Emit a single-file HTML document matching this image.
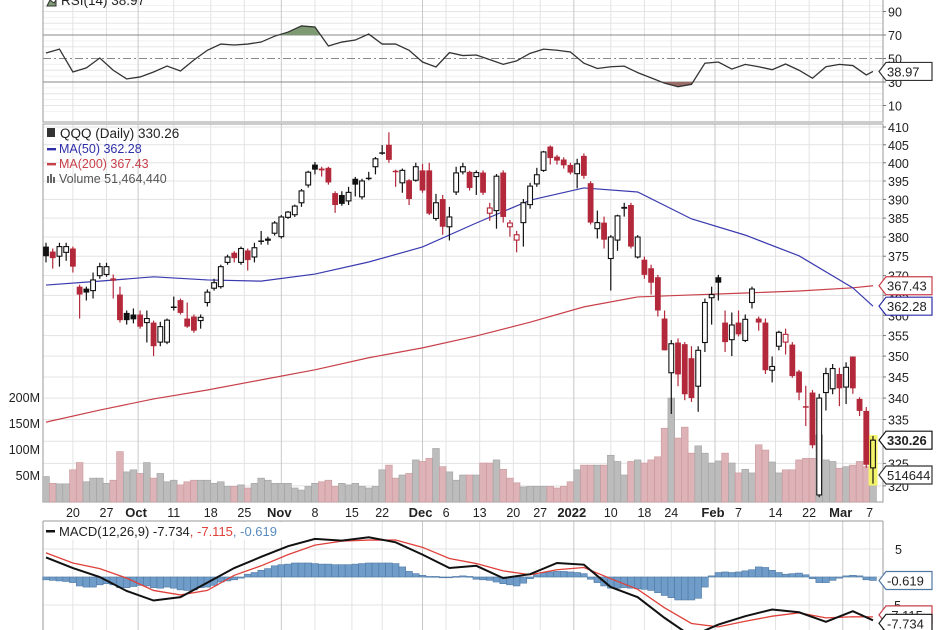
<!DOCTYPE html>
<html><head><meta charset="utf-8">
<style>
html,body{margin:0;padding:0;background:#fff;}
svg{display:block;font-family:"Liberation Sans",Arial,sans-serif;}
</style></head>
<body>
<svg id="chart" width="936" height="630" viewBox="0 0 936 630"></svg>
<script>
// ---------- DATA ----------
const opens=[377.5,376.2,375,376,377,367.2,366.7,366.2,370,370.3,369.3,365.2,360.6,360.2,360.2,358.2,358.2,353.4,353.4,362.2,363.8,359.2,359.7,358.7,363.2,366.8,367.2,373.4,375.9,373.4,376.5,374.8,379.1,379.6,381,380.1,385.2,385.9,389.1,393.9,399.5,398.4,398.6,391.7,391.2,389.6,395.6,390.7,395.9,398.9,402.9,405,397.8,394.5,395.2,395.2,397.9,397.9,384.9,390.1,382.7,392,397.5,397.5,396.2,397.3,386.3,387,397.3,382.7,379.2,383.8,388.6,394.2,397.9,404.5,401.7,400.9,399.4,397,401.9,394.4,382.2,383.8,374.4,379.2,388,388.5,374.8,374.1,371.9,369.6,359.2,346,353.3,352.9,349.5,342.8,353.3,364.4,369.6,358.2,354,358.2,353.8,363.2,359.2,358.2,346.6,352.4,353.4,352.8,346.3,338.1,341.3,318,341.3,342.2,345.7,342.6,349.9,339.8,337,324];
const closes=[375,374.5,377.5,377.5,372.3,365.2,365.7,368.9,372.3,372.3,368.7,358.8,358.8,359,357.2,359.2,352.4,357.2,358.8,361.9,360.6,357.2,356.2,359.5,365.8,368.2,372.3,374.8,374.5,377,374,377.2,378.8,379,383.7,385.3,386.6,388.2,392.3,397.4,398.1,397.9,394.6,388.5,388.8,391.9,394,395,395.6,401.1,402.5,400.8,397.4,397.9,390.1,398.9,392.4,386.2,389.1,382.7,385.3,397.2,398.9,393.1,397.3,391.8,387.7,396.3,385.3,383.7,380.6,389.1,393.6,396.7,403,401.3,400.6,399.3,397.3,399.7,396.4,383.8,383.8,379.3,380,385.6,387.5,377.5,380,370.2,368.2,361.2,351.4,353,345.6,340.9,340,351.4,363.2,365.2,368.2,353.4,357.6,355.3,359,366.6,358.2,346.6,347.5,355.8,355.3,345.2,341.3,337.9,329.1,340,345.8,347,342.3,347.3,342.3,337,324.7,330.26];
const highs=[378.5,377,378.5,378.5,377.5,367.7,367.2,370.8,373.3,373.3,370.3,367.2,361.2,361.7,361.2,361.2,358.7,358.4,359.2,364.7,364.2,363.2,360.2,360.2,366.5,369.2,372.8,375.4,376.3,377.5,377,378.5,381.6,380.1,384.2,385.8,386.9,388.6,392.8,397.8,400.2,398.9,398.9,392.2,392.2,393.4,396.1,395.6,397.5,401.6,404.9,408.5,398.1,398.4,395.5,400,399.7,400,391.5,391.2,388,398.9,400,397.8,397.9,397.9,389.1,396.9,397.9,384.5,381.6,390.1,394.5,398.6,403.3,404.8,402.2,401.5,400,401.1,402.6,394.9,387,385.4,380.5,385.9,389.1,389.1,380.5,374.9,372.8,370.2,361.2,353.9,354.3,353.4,352.4,352.4,364.2,367.2,370.2,361.2,360.7,361.2,360.2,367.2,359.7,359.2,349.9,356.2,356.7,353.4,346.7,342.9,341.9,341,347.2,348.1,347.2,348.5,349.9,340.2,337.9,331.2];
const lows=[373.4,371.8,372.3,373.8,370.8,359.2,363.7,364.2,369.2,369.7,364.2,358.2,357.7,358,356.7,353.3,350,352.4,352.9,361.2,360.2,356.9,355.7,356.7,362.2,366.2,366.7,372.8,373.4,372.8,371.3,373.4,378,378,380.4,379.6,384.8,385.3,388,393.2,396.8,396.2,394,386.4,388.3,388.5,390.8,390,395.2,396.8,402.2,400,393.4,391.8,388.5,394.8,391.8,385.8,384.3,380.6,379.1,391.2,396.8,392.4,391.2,391.2,384.3,382.2,383.8,380.1,376,377.5,387.5,393.4,397.5,399.5,399.5,398.4,396.8,393,395.6,383.3,379.6,377,366.2,376.4,385.4,377,374.4,369.2,365.2,359.7,351.4,336.3,342.8,339.5,339.1,336.8,351,357.7,363.7,351,350,354.8,353.4,361.7,356.2,345.7,343.7,351.4,350.4,344.8,339.5,333.5,328.4,317.5,337.1,340.9,338.1,338.6,341,335.8,324,320.5];
const volumes=[47,34,33,33,60,74,37,44,44,34,40,95,56,60,53,74,44,53,37,40,31,37,40,40,40,34,37,28,28,31,25,34,44,40,34,34,34,25,21,28,34,37,40,28,34,31,34,28,25,28,60,69,44,50,53,79,76,82,101,66,56,40,50,50,50,73,73,79,61,44,35,27,28,28,28,28,25,28,37,60,69,69,69,69,88,76,50,76,79,73,79,85,140,198,121,142,92,106,92,73,77,92,73,54,61,54,108,98,75,54,60,60,79,82,82,127,79,76,63,66,69,76,66,51];
// MA values sampled every 8 candles (last = final candle)
const ma50=[367.6,368.6,369.7,368.9,368.6,370.4,373.5,377.4,383.7,389.8,393.1,392,384.8,380.5,375.1,366.9,362.28];
const ma200=[334.4,337.2,339.8,341.9,344.3,346.7,349.6,352,354.9,358.3,362.1,364.6,365.1,365.6,366.1,366.9,367.43];
// RSI sampled every 2 candles (last = final candle)
const rsi=[54.7,58,38.5,42,50.4,40,32.6,34.3,38.5,43.6,39.4,48.7,57,62.3,61.5,62.3,64,69,72.5,77.7,76.8,60.6,64,65.7,70.8,62.3,62.3,57,47,42.8,55,52.5,53,49,45,48,54.4,58,57,55.5,46,41.5,43,43.5,38,33.5,29,26,28,46,47,41,45,43,40.5,45.3,40,33.2,43,45,44,36,38.97];
// MACD sampled every 4 candles (last = final candle)
const macdLine=[3.5,1.6,0,-2.5,-4.2,-3.6,-1.0,1.6,3.6,5.5,6.8,6.5,7.1,6.2,4.0,1.6,2.0,-0.2,0.5,2.5,2.2,-1.8,-3.6,-7.3,-10.6,-8.5,-7.0,-5.8,-6.3,-8.0,-6.1,-7.734];
const signalLine=[4.3,2.5,1.5,-0.2,-2.4,-3.2,-2.4,0.3,2.0,4.0,5.7,6.4,6.6,6.6,5.3,3.3,2.4,1.1,0.4,1.3,1.7,-0.3,-2.2,-5.5,-8.3,-8.9,-7.9,-7.0,-6.4,-7.3,-7.1,-7.115];
const histogram=[-0.5,-0.6,-0.7,-0.8,-1.0,-1.6,-1.8,-1.8,-1.4,-1.2,-1.4,-1.9,-1.9,-1.7,-1.5,-1.6,-1.9,-2.0,-1.8,-2.0,-2.3,-2.4,-2.3,-1.9,-1.8,-1.5,-0.9,-0.7,-0.5,-0.2,0.5,0.8,1.2,1.5,2.0,2.2,2.3,2.5,2.5,2.5,2.4,2.3,2.3,2.2,2.2,2.2,2.3,2.4,2.5,2.5,2.5,2.5,2.4,1.8,1.0,0.6,0.3,0.1,0.1,0.0,-0.1,0.1,0.2,0.1,-0.4,-0.5,-0.6,-0.9,-1.2,-1.4,-1.6,-1.1,-0.3,0.4,0.8,0.9,1.0,1.0,0.9,0.8,0.6,-0.4,-1.0,-1.6,-2.0,-2.0,-1.9,-2.0,-2.1,-2.2,-2.4,-2.8,-3.3,-3.7,-4.1,-4.1,-4.1,-3.8,-1.8,0.2,0.8,0.9,0.8,0.9,1.1,1.3,1.8,1.7,1.2,0.8,0.5,0.6,0.7,0.4,-0.3,-1.0,-1.0,-0.6,-0.2,0.2,0.3,0.2,-0.5,-0.619];
const priceTicks=[410,405,400,395,390,385,380,375,370,365,360,355,350,345,340,335,330,325,320];
const volTicks=[200,150,100,50];
const volTickLabels=["200M","150M","100M","50M"];
const rsiTicks=[90,70,50,30,10];
const macdTicks=[5,-5,-10];
const dateIdx=[4,9,13.7,19,24.5,29.5,35,40,45.5,50,56,59.5,64.5,69.5,73.5,78.5,84,89,93,99.5,103,108.5,113.5,118.5,122.5];
const dateLabels=["20","27","Oct","11","18","25","Nov","8","15","22","Dec","6","13","20","27","2022","10","18","24","Feb","7","14","22","Mar","7"];
const monthLabels=["Oct","Nov","Dec","2022","Feb","Mar"];

// ---------- SCALES ----------
const L=43,R=883,N=closes.length;
const xI=i=>46+i*(827/(N-1));
const yP=p=>127+1448*Math.log(410/p);
const yV=v=>501-v*0.52;
const yR=v=>35+(70-v)*1.175;
const yM=v=>577-v*5.6;
const NS='http://www.w3.org/2000/svg';
const svg=document.getElementById('chart');
function el(tag,attrs,parent){const e=document.createElementNS(NS,tag);for(const k in attrs)e.setAttribute(k,attrs[k]);(parent||svg).appendChild(e);return e;}
function txt(s,attrs,parent){const e=el('text',attrs,parent);e.textContent=s;return e;}
const red='#b3283a',blue='#2e2ea8',maRed='#c8404a';

// ---------- GRID ----------
const grid=el('g',{});


for(let v=10;v<=90;v+=10){if(v===70||v===30||v===50)continue;el('line',{x1:L,x2:R,y1:yR(v),y2:yR(v),stroke:'#e6e6e6'},grid);}
for(let v=0;v<=100;v+=5){if(v%10)el('line',{x1:L,x2:R,y1:yR(v),y2:yR(v),stroke:'#f1f1f1'},grid);}
priceTicks.forEach(p=>el('line',{x1:L,x2:R,y1:yP(p),y2:yP(p),stroke:'#e3e3e3'},grid));
[5,0,-5].forEach(v=>el('line',{x1:L,x2:R,y1:yM(v),y2:yM(v),stroke:'#e3e3e3'},grid));
dateIdx.forEach((d,k)=>{const x=xI(d);const m=monthLabels.includes(dateLabels[k]);
  [[0,121],[124,502],[521,630]].forEach(r=>el('line',{x1:x,x2:x,y1:r[0],y2:r[1],stroke:m?'#c8c8c8':'#e3e3e3'},grid));});
// RSI reference lines
el('line',{x1:L,x2:R,y1:yR(70),y2:yR(70),stroke:'#888'},grid);
el('line',{x1:L,x2:R,y1:yR(30),y2:yR(30),stroke:'#888'},grid);
el('line',{x1:L,x2:R,y1:yR(50),y2:yR(50),stroke:'#888','stroke-dasharray':'8,3,2,3'},grid);

// ---------- FRAMES ----------
[[0,122],[124,502],[521,631]].forEach((r,k)=>{const f=el('rect',{x:L,y:r[0]-(k==0?5:0),width:R-L,height:r[1]-r[0]+(k==0?5:0),fill:'none',stroke:'#999'});
  
  });

// ---------- RSI ----------
const rsiX=k=>xI(Math.min(2*k,N-1));
let rp=rsi.map((v,k)=>rsiX(k)+','+yR(v)).join(' ');
const defs=el('defs',{});
const c1=el('clipPath',{id:'above70'},defs);el('rect',{x:L,y:-10,width:R-L,height:yR(70)+10},c1);
const c2=el('clipPath',{id:'below30'},defs);el('rect',{x:L,y:yR(30),width:R-L,height:60},c2);
const fillUp=el('polygon',{points:rsiX(0)+','+yR(70)+' '+rp+' '+rsiX(rsi.length-1)+','+yR(70),fill:'#7d9a72','clip-path':'url(#above70)'});


const fillDn=el('polygon',{points:rsiX(0)+','+yR(30)+' '+rp+' '+rsiX(rsi.length-1)+','+yR(30),fill:'#9a6c68','clip-path':'url(#below30)'});


const rl=el('polyline',{points:rp,fill:'none',stroke:'#333','stroke-width':1.3});



// ---------- VOLUME ----------
const vg=el('g',{});


volumes.forEach((v,i)=>{const dn=i>0&&closes[i]<closes[i-1];const w=827/(N-1);
  const b=el('rect',{x:xI(i)-w/2,y:yV(v),width:w,height:502-yV(v),fill:dn?'#ddb3b7':'#bcbcbc',stroke:dn?'#c9959a':'#a0a0a0','stroke-width':0.6},vg);
  
  });

// ---------- MA LINES ----------
const maX=k=>xI(Math.min(8*k,N-1));
const m200=el('polyline',{points:ma200.map((v,k)=>maX(k)+','+yP(v)).join(' '),fill:'none',stroke:maRed,'stroke-width':1.2});


const m50=el('polyline',{points:ma50.map((v,k)=>maX(k)+','+yP(v)).join(' '),fill:'none',stroke:'#3a3ab0','stroke-width':1.2});



// last candle highlight
const hl=el('rect',{x:xI(N-1)-4.5,y:yP(highs[N-1])-1,width:9,height:yP(lows[N-1])-yP(highs[N-1])+3,fill:'#f3f36a'});



// ---------- CANDLES ----------
const cg=el('g',{});


for(let i=0;i<N;i++){const o=opens[i],c=closes[i];const dn=i>0&&c<closes[i-1];const col=dn?red:'#111';
  const g=el('g',{},cg);
  
  
  const x=xI(i);
  el('line',{x1:x,x2:x,y1:yP(highs[i]),y2:yP(lows[i]),stroke:col,'stroke-width':1.2},g);
  const top=yP(Math.max(o,c)),bot=yP(Math.min(o,c));const h=Math.max(bot-top,1.5);
  if(c>=o) el('rect',{x:x-2.4,y:top,width:4.8,height:h,fill:i===N-1?'#f3f36a':'#fff',stroke:col,'stroke-width':1.1},g);
  else el('rect',{x:x-2.9,y:top,width:5.8,height:h,fill:col,stroke:'none'},g);}

// ---------- MACD ----------
const hg=el('g',{});


histogram.forEach((v,i)=>{const w=827/(N-1);const y0=yM(0),y1=yM(v);
  const b=el('rect',{x:xI(i)-w/2,y:Math.min(y0,y1),width:w,height:Math.max(Math.abs(y1-y0),0.8),fill:'#6f9cc8',stroke:'#4f79a4','stroke-width':0.6},hg);
  
  });
const mX=k=>xI(Math.min(4*k,N-1));
const sl=el('polyline',{points:signalLine.map((v,k)=>mX(k)+','+yM(v)).join(' '),fill:'none',stroke:'#e0403a','stroke-width':1.3});


const ml=el('polyline',{points:macdLine.map((v,k)=>mX(k)+','+yM(v)).join(' '),fill:'none',stroke:'#111','stroke-width':2});


el('rect',{x:0,y:503,width:936,height:18,fill:'#fff'});
el('line',{x1:L,x2:R,y1:521,y2:521,stroke:'#999'});
el('rect',{x:0,y:623,width:0,height:0,fill:'none'});

// ---------- AXIS LABELS ----------
const ax=el('g',{'font-size':'12.5',fill:'#222'});


rsiTicks.forEach(v=>{txt(String(v),{x:888,y:yR(v)+5},ax);el('line',{x1:R,x2:R+3,y1:yR(v),y2:yR(v),stroke:'#777'},ax);});
priceTicks.forEach(p=>{txt(String(p),{x:888,y:yP(p)+5},ax);el('line',{x1:R,x2:R+3,y1:yP(p),y2:yP(p),stroke:'#777'},ax);});
macdTicks.forEach(v=>txt(String(v),{x:v<0?890:895,y:yM(v)+5},ax));
const vax=el('g',{'font-size':'12.5',fill:'#222','text-anchor':'end'});


volTicks.forEach((v,k)=>{txt(volTickLabels[k],{x:40,y:yV(v)+5},vax);});
const dax=el('g',{'font-size':'12.5',fill:'#222','text-anchor':'middle'});


dateIdx.forEach((d,k)=>{const m=monthLabels.includes(dateLabels[k]);
  txt(dateLabels[k],{x:xI(d)+(m?-2:0),y:517,'font-weight':m?'bold':'normal','font-size':m?13:12.5},dax);});

// ---------- VALUE TAGS ----------
function tag(y,label,stroke,bold,name){const g=el('g',{});
  
  
  el('polygon',{points:`879,${y} 886,${y-9} 932,${y-9} 932,${y+9} 886,${y+9}`,fill:'#fff',stroke:stroke,'stroke-width':1.2},g);
  txt(label,{x:887,y:y+5,'font-size':13,'font-weight':bold?'bold':'normal',fill:'#222',textLength:label.length>6?44:0,lengthAdjust:'spacingAndGlyphs'},g);}
tag(yR(38.97),'38.97','#333',false,'rsi-value-tag');
tag(yP(367.43),'367.43',maRed,false,'ma200-value-tag');
tag(yP(362.28),'362.28',blue,false,'ma50-value-tag');
tag(yP(330.26),'330.26','#111',true,'last-price-tag');
tag(475,'514644','#333',false,'volume-value-tag');
tag(yM(-7.115)-2,'-7.115',maRed,false,'signal-value-tag');
tag(yM(-7.734)+3,'-7.734','#111',false,'macd-value-tag');
tag(yM(-0.619),'-0.619','#4f79a4',false,'histogram-value-tag');

// ---------- LEGENDS ----------
const lg=el('g',{'font-size':'13'});


el('rect',{x:47,y:128,width:8,height:9,fill:'#333'},lg);
txt('QQQ (Daily) 330.26',{x:60,y:138,fill:'#222','font-size':13.5},lg);
el('rect',{x:47,y:148,width:9,height:2.4,fill:blue},lg);
txt('MA(50) 362.28',{x:59,y:153,fill:blue,'font-size':12.5},lg);
el('rect',{x:47,y:163,width:9,height:2.4,fill:maRed},lg);
txt('MA(200) 367.43',{x:59,y:168,fill:maRed,'font-size':12.5},lg);
el('rect',{x:47,y:176,width:2,height:7,fill:'#666'},lg);el('rect',{x:50,y:174,width:2,height:9,fill:'#666'},lg);el('rect',{x:53,y:177,width:2,height:6,fill:'#666'},lg);
txt('Volume 51,464,440',{x:59,y:183,fill:'#555','font-size':12.5},lg);

const rlg=el('g',{});


el('polygon',{points:'47,6 50,0 54,3 56,0 56,6',fill:'#7d9a72',stroke:'#333'},rlg);
txt('RSI(14) 38.97',{x:61,y:5,'font-size':13.5,fill:'#222'},rlg);

const mlg=el('g',{'font-size':'13'});


el('rect',{x:44,y:522,width:258,height:18,fill:'#fff'},mlg);
el('rect',{x:46,y:530,width:9,height:2.5,fill:'#111'},mlg);
const t=txt('',{x:59,y:536},mlg);
[['MACD(12,26,9) -7.734','#222'],[', -7.115','#e0403a'],[', -0.619','#5b8cc0']].forEach(([s,c])=>{const sp=el('tspan',{fill:c},t);sp.textContent=s;});
</script>
</body></html>
